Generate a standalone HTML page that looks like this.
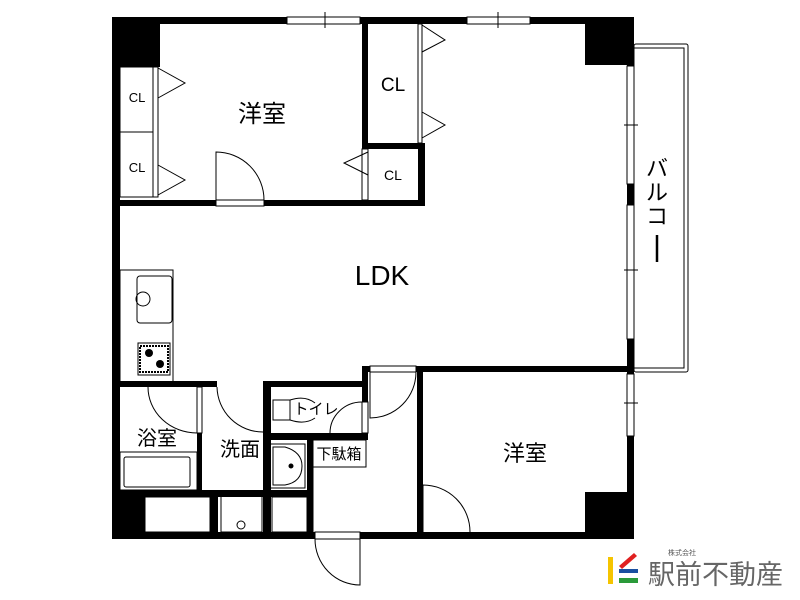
<!DOCTYPE html>
<html><head><meta charset="utf-8"><style>
html,body{margin:0;padding:0;background:#fff;}
svg{display:block;}
text{font-family:"Liberation Sans","Noto Sans CJK JP",sans-serif;fill:#000;}
</style></head><body>
<svg width="800" height="600" viewBox="0 0 800 600" xmlns="http://www.w3.org/2000/svg">
<rect width="800" height="600" fill="#fff"/>
<rect x="634" y="44" width="54" height="328" fill="#fff" stroke="#000" stroke-width="1" rx="2"/>
<rect x="634" y="48" width="50" height="320" fill="none" stroke="#000" stroke-width="1"/>
<g fill="#000">
<rect x="112" y="17" width="522" height="7"/>
<rect x="112" y="17" width="8" height="522"/>
<rect x="627" y="17" width="7" height="522"/>
<rect x="112" y="532" width="522" height="7"/>
<rect x="112" y="17" width="48" height="50"/>
<rect x="585" y="17" width="49" height="48"/>
<rect x="112" y="490" width="33" height="49"/>
<rect x="585" y="492" width="49" height="47"/>
<rect x="112" y="200" width="313" height="6"/>
<rect x="362" y="17" width="6" height="189"/>
<rect x="362" y="143" width="63" height="6"/>
<rect x="418" y="143" width="7" height="63"/>
<rect x="362" y="366" width="272" height="6"/>
<rect x="112" y="381" width="256" height="6"/>
<rect x="362" y="366" width="6" height="74"/>
<rect x="417" y="366" width="6" height="170"/>
<rect x="197" y="381" width="5" height="116"/>
<rect x="112" y="490" width="201" height="7"/>
<rect x="210" y="490" width="8" height="45"/>
<rect x="263" y="381" width="8" height="155"/>
<rect x="307" y="434" width="6" height="100"/>
<rect x="263" y="433" width="105" height="7"/>
</g>
<g fill="#fff" stroke="#000" stroke-width="1">
<rect x="287" y="17" width="73" height="7"/>
<rect x="467" y="17" width="63" height="7"/>
<rect x="627" y="66" width="7" height="118"/>
<rect x="627" y="205" width="7" height="134"/>
<rect x="627" y="374" width="7" height="62"/>
<rect x="216" y="200" width="48" height="6"/>
<rect x="153" y="67" width="5" height="130"/>
<rect x="418" y="24" width="4" height="119"/>
<rect x="362" y="149" width="6" height="51"/>
<rect x="197" y="387" width="5" height="46"/>
<rect x="217" y="381" width="46" height="6" stroke="none"/>
<rect x="362" y="402" width="6" height="31"/>
<rect x="370" y="366" width="46" height="6"/>
<rect x="315" y="532" width="45" height="7"/>
</g>
<g fill="none" stroke="#000" stroke-width="1">
<line x1="325" y1="12" x2="325" y2="28"/>
<line x1="498" y1="12" x2="498" y2="28"/>
<line x1="624" y1="125" x2="638" y2="125"/>
<line x1="624" y1="270" x2="638" y2="270"/>
<line x1="624" y1="403" x2="638" y2="403"/>
<rect x="120" y="67" width="33" height="130"/>
<line x1="120" y1="132" x2="153" y2="132"/>
<polyline points="158,68 185,83 158,98"/>
<polyline points="158,165 185,180 158,195"/>
<polyline points="422,25 445,40 422,52"/>
<polyline points="422,112 445,125 422,138"/>
<polyline points="368,152 344,163 368,175"/>
<path d="M216,200 L216,152 A48,48 0 0 1 264,200"/>
<path d="M148,387 A49,46 0 0 0 197,433"/>
<path d="M217,387 A46,46 0 0 0 263,432"/>
<path d="M330,433 A32,31 0 0 1 362,402"/>
<path d="M370,372 L370,418 A46,46 0 0 0 416,372"/>
<path d="M360,539 L360,585 A45,46 0 0 1 315,539"/>
<path d="M423,532 L423,485 A47,47 0 0 1 470,532"/>
<rect x="120" y="452" width="77" height="38"/>
<rect x="124" y="457" width="66" height="30" rx="2"/>
<path d="M273,400 L290,400 L290,420 L273,420 Z"/>
<path d="M290,400 Q305,395 315,403 M290,420 Q305,425 315,418"/>
<rect x="270" y="444" width="35" height="44"/>
<path d="M273,447 L285,447 Q302,452 302,466 Q302,482 285,485 L273,485 Z"/>
<circle cx="291" cy="466" r="2" fill="#000"/>
<rect x="313" y="440" width="53" height="27"/>
<line x1="313" y1="467" x2="313" y2="532"/>
<rect x="145" y="497" width="65" height="35"/>
<rect x="221" y="492" width="41" height="40"/>
<circle cx="241" cy="525" r="4"/>
<rect x="272" y="497" width="35" height="35"/>
<rect x="120" y="270" width="53" height="112"/>
<rect x="137" y="276" width="35" height="47" rx="3"/>
<circle cx="143" cy="299" r="7"/>
<rect x="138" y="343" width="32" height="32"/>
</g>
<g fill="#000">
<rect x="140" y="346" width="28" height="26" fill="none" stroke="#000" stroke-width="2" stroke-dasharray="2,1"/>
<circle cx="149" cy="353" r="4"/>
<circle cx="160" cy="364" r="4"/>
</g>
<text x="262" y="122" font-size="24" text-anchor="middle">洋室</text>
<text x="137" y="102" font-size="13" text-anchor="middle">CL</text>
<text x="137" y="172" font-size="13" text-anchor="middle">CL</text>
<text x="393" y="91" font-size="19" text-anchor="middle">CL</text>
<text x="393" y="180" font-size="14" text-anchor="middle">CL</text>
<text x="382" y="285" font-size="28" text-anchor="middle">LDK</text>
<text x="157" y="445" font-size="20" text-anchor="middle">浴室</text>
<text x="240" y="456" font-size="20" text-anchor="middle">洗面</text>
<text x="316" y="414" font-size="15" text-anchor="middle">トイレ</text>
<text x="339" y="459" font-size="15" text-anchor="middle">下駄箱</text>
<text x="525" y="461" font-size="22" text-anchor="middle">洋室</text>
<g font-size="22">
<text x="657" y="176" text-anchor="middle">バ</text>
<text x="657" y="200" text-anchor="middle">ル</text>
<text x="657" y="224" text-anchor="middle">コ</text>
</g>
<line x1="657" y1="235" x2="657" y2="262" stroke="#000" stroke-width="2.5"/>
<rect x="608" y="557" width="5" height="27" fill="#f5c400"/>
<polygon points="619,566 634,553 637,556 622,569" fill="#e02020"/>
<rect x="619" y="569" width="19" height="4" fill="#1a4fa0"/>
<rect x="619" y="578" width="19" height="5" fill="#2a9a3a"/>
<text x="668" y="555" font-size="7" style="fill:#555">株式会社</text>
<text x="648" y="584" font-size="27" style="fill:#666">駅前不動産</text>
</svg>
</body></html>
